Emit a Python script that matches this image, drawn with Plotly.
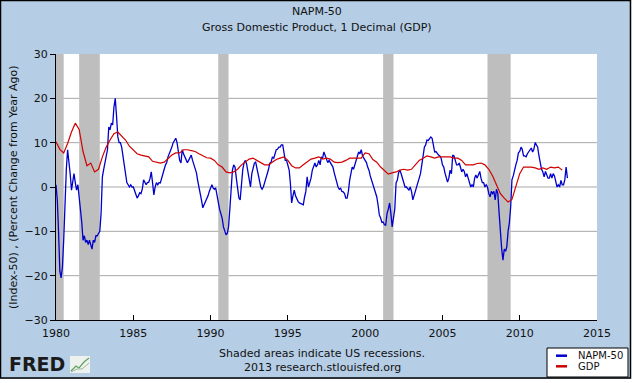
import pandas as pd
import plotly.graph_objects as go

# ---------------- data ----------------
napm_start = "1980-01-01"   # monthly, NAPM index minus 50
napm_values = [
    0.5, -3, -10, -19, -20.5, -18, -12, -3, 4, 8.4, 6, 3,          # 1980
    -0.7, 2, 3, 1, -0.7, 0.5, -2, -4, -8, -12, -11, -12.5,         # 1981
    -12, -13, -12, -13, -14, -12, -12.5, -11, -11, -10.5, -10, -6,  # 1982
    2.3, 4, 5.4, 6.5, 8.4, 13.5, 12.9, 14.4, 14, 18, 20, 16,       # 1983
    11.3, 10, 10, 9, 7, 4.5, 2, 1, 0.5, 0, 0.5, 0,                 # 1984
    0, -1, -1.5, -2.5, -2, -1.3, -1.5, -0.5, 1.6, 1, 0.5, 1,       # 1985
    1.1, 2, 3.4, 1, -1.8, 0, 1, 0.5, 1, 0.9, 2, 3.5,               # 1986
    4, 5, 5.5, 6.8, 7.5, 8, 9, 10, 10.6, 11, 10, 7.7,              # 1987
    6, 5.4, 8.4, 7.5, 6.8, 6, 5.5, 6, 6.5, 7.2, 6, 5,              # 1988
    4, 3.2, 1.5, 0, -0.7, -3, -4.7, -4, -3.5, -2.9, -2, -1,        # 1989
    0, 0.5, -0.2, -0.5, -0.2, -2, -3, -5, -6, -7, -9, -10,         # 1990
    -10.8, -10.4, -9, -5, -0.7, 3.8, 5, 4.5, 2, -1, -2.5, -2.9,    # 1991
    1.6, 4, 5.4, 6, 5.2, 3.4, 2.3, 0, 3, 4.5, 5.4, 5.6,            # 1992
    4, 2.3, 1, 0, -0.5, 0, 1, 2.3, 3, 4, 5.4, 5.6,                 # 1993
    6.8, 6.5, 7.5, 8.4, 8.5, 9, 9, 9.5, 9.5, 8, 6, 6,              # 1994
    5, 3.8, 0.9, -3.6, -2, -0.7, -2, -2.9, -3.3, -3.6, -3.8, -4,   # 1995
    -4, -2.2, -1, 2.3, 0, 1, 2, 3.8, 4.5, 5.4, 4.5, 5,             # 1996
    6, 5, 6.8, 6.5, 7.9, 7, 6, 5.5, 6, 5.5, 5, 4.5,                # 1997
    3.2, 2, 0.5, 0, -0.5, -0.3, -1, -1.1, -1.5, -2.5, -2.5, -1,    # 1998
    1.6, 3, 4.5, 4, 5, 6, 6.5, 7.9, 7.5, 8.4, 7, 6.5,              # 1999
    6, 5.5, 4.5, 3.8, 2.5, 1.5, 0.9, 0, -1, -2.2, -4, -6.3,        # 2000
    -7, -8, -7.9, -8.5, -8.6, -6, -5, -3.6, -6, -9, -7, -5,        # 2001
    0.9, 1.6, 3.2, 3.8, 3, 2, 0.9, 0, 0, -0.5, -0.7, 0,            # 2002
    -1, -2.9, -2, -1, 0, 1, 2.3, 3, 5, 7, 9, 9.5,                  # 2003
    10.6, 10.5, 11, 11.3, 11, 9, 7.9, 8, 7.5, 7.2, 7, 6.5,         # 2004
    5, 4.5, 3.2, 2, 1.1, 2, 3.8, 3, 7.2, 7, 6, 5,                  # 2005
    5, 5.4, 4.5, 3.4, 4, 3.5, 2.3, 3, 2, 1, 0, 0.5,                # 2006
    0, 2, 2.7, 2, 3, 3.5, 2, 1, 1, 0, 0.5, 0,                      # 2007
    -1.5, -2.2, -1, -1.5, -1, -2.9, -0.5, -1.5, -5.9, -10.4, -14, -16.5,  # 2008
    -14, -14.5, -13.5, -10, -8.1, -4.5, 1.6, 2.5, 4.3, 5, 6, 7.7,  # 2009
    8, 9, 8.5, 7, 7, 6.8, 7.5, 7.9, 8.5, 8.8, 7.9, 8.5,            # 2010
    10, 9.5, 9, 7, 5.4, 4, 3.4, 2.3, 3.5, 2.5, 2, 2,               # 2011
    3, 2, 3, 2.5, 1.5, 0, 0.5, 0, 1.5, 0.5, 0.5, 1.6,              # 2012
    4.5, 2,                                                        # 2013
]

gdp_start = "1980-01-01"    # quarterly, percent change from year ago
gdp_values = [
    10.2, 8.5, 7.7, 9.8,    # 1980
    12.4, 14.4, 13, 8,      # 1981
    4.8, 5.4, 3.4, 4.0,     # 1982
    6.8, 9, 10.6, 12,       # 1983
    12.4, 11.5, 10.6, 9.2,  # 1984
    8.4, 7.5, 7.2, 7,       # 1985
    6.8, 5.8, 5.6, 5.4,     # 1986
    5.6, 6.5, 7.2, 7.7,     # 1987
    7.7, 8.4, 8.4, 8.2,     # 1988
    8, 7.5, 7, 6.6,         # 1989
    6.5, 6, 5, 4.5,         # 1990
    3.4, 3.2, 3.4, 4,       # 1991
    5, 5.6, 6.3, 6.5,       # 1992
    6, 5.6, 5, 5,           # 1993
    5.6, 6.2, 6.5, 6.8,     # 1994
    6, 4.8, 4.3, 4.3,       # 1995
    5, 5.7, 6.3, 6.5,       # 1996
    6.8, 6.3, 6.5, 6.3,     # 1997
    5.6, 5.5, 5.6, 6,       # 1998
    6.5, 6.5, 6.5, 6.5,     # 1999
    7.7, 7.5, 6.2, 5.6,     # 2000
    4.5, 3.8, 2.9, 3.2,     # 2001
    3.4, 3.8, 4, 3.8,       # 2002
    4, 5, 6, 6.5,           # 2003
    7, 6.8, 6.5, 6.8,       # 2004
    6.8, 6.7, 6.8, 6.5,     # 2005
    6.5, 6, 5, 5,           # 2006
    5, 5.3, 5.4, 5,         # 2007
    4, 2.5, 0.5, -1.5,      # 2008
    -2.5, -3.4, -2.8, 0,    # 2009
    3, 4.5, 4.5, 4.5,       # 2010
    4.3, 4, 4.3, 4,         # 2011
    4.5, 4.3, 4.5, 3.8,     # 2012
]

recession_starts = ["1980-01-01", "1981-07-01", "1990-07-01", "2001-03-01", "2007-12-01"]
recession_ends = ["1980-07-01", "1982-11-01", "1991-03-01", "2001-11-01", "2009-06-01"]

x_tick_years = [1980, 1985, 1990, 1995, 2000, 2005, 2010, 2015]
y_tick_values = [-30, -20, -10, 0, 10, 20, 30]
grid_values = [-20, -10, 0, 10, 20]

series_names = ["NAPM-50", "GDP"]
series_colors = ["#0000CC", "#D00000"]

# ---------------- figure ----------------
napm_dates = pd.date_range(napm_start, periods=len(napm_values), freq="MS")
gdp_dates = pd.date_range(gdp_start, periods=len(gdp_values), freq="QS")

BG = "#B5CDE5"
FONT = "DejaVu Sans"
W, H = 634, 383
ML, MR, MT, MB = 56, 37, 54, 63
PW, PH = W - ML - MR, H - MT - MB


def px(x):
    return (x - ML) / PW


def py(y):
    return (H - MB - y) / PH


fig = go.Figure()
fig.add_trace(go.Scatter(x=napm_dates, y=napm_values, mode="lines", name=series_names[0],
                         line=dict(color=series_colors[0], width=1.3), showlegend=False))
fig.add_trace(go.Scatter(x=gdp_dates, y=gdp_values, mode="lines", name=series_names[1],
                         line=dict(color=series_colors[1], width=1.2), showlegend=False))

shapes = []
for g in grid_values:
    shapes.append(dict(type="line", xref="paper", x0=0, x1=1, yref="y", y0=g, y1=g,
                       line=dict(color="#A8A8A8", width=1), layer="below"))
for s, e in zip(recession_starts, recession_ends):
    shapes.append(dict(type="rect", xref="x", x0=s, x1=e, yref="paper", y0=0, y1=1,
                       fillcolor="#BEBEBE", line=dict(width=0), layer="below"))

# outer white strips and black frame
shapes.append(dict(type="rect", xref="paper", yref="paper", x0=px(631), x1=px(640),
                   y0=py(-5), y1=py(390), fillcolor="white", line=dict(width=0)))
shapes.append(dict(type="rect", xref="paper", yref="paper", x0=px(-5), x1=px(640),
                   y0=py(379), y1=py(390), fillcolor="white", line=dict(width=0)))
shapes.append(dict(type="rect", xref="paper", yref="paper", x0=px(0.5), x1=px(630.5),
                   y0=py(378), y1=py(0.5), line=dict(color="black", width=1.5)))

# legend box
shapes.append(dict(type="rect", xref="paper", yref="paper", x0=px(547), x1=px(628),
                   y0=py(377), y1=py(348), fillcolor="white", line=dict(color="black", width=1)))
leg_y = [355.7, 366.3]
for yy, c in zip(leg_y, series_colors):
    shapes.append(dict(type="line", xref="paper", yref="paper", x0=px(556), x1=px(567),
                       y0=py(yy), y1=py(yy), line=dict(color=c, width=2.5)))

# FRED logo icon
shapes.append(dict(type="rect", xref="paper", yref="paper", x0=px(70), x1=px(90),
                   y0=py(373), y1=py(356), fillcolor="#EEF2EE", line=dict(width=0)))
shapes.append(dict(type="path", xref="paper", yref="paper",
                   path="M {} {} L {} {} L {} {} L {} {} L {} {}".format(
                       px(71), py(371), px(76), py(366), px(79), py(368), px(84), py(362), px(89), py(358)),
                   line=dict(color="#5FA05F", width=1.2)))
shapes.append(dict(type="path", xref="paper", yref="paper",
                   path="M {} {} L {} {} L {} {} L {} {}".format(
                       px(71), py(372), px(77), py(369), px(82), py(369), px(89), py(363)),
                   line=dict(color="#9AB89A", width=1)))

annotations = [
    dict(text="NAPM-50", x=px(317), y=py(12), xref="paper", yref="paper", showarrow=False,
         font=dict(family=FONT, size=11, color="#111111"), xanchor="center", yanchor="middle"),
    dict(text="Gross Domestic Product, 1 Decimal (GDP)", x=px(317), y=py(27), xref="paper",
         yref="paper", showarrow=False, font=dict(family=FONT, size=11, color="#111111"),
         xanchor="center", yanchor="middle"),
    dict(text="(Index-50) , (Percent Change from Year Ago)", x=px(13), y=py(187), xref="paper",
         yref="paper", showarrow=False, textangle=-90,
         font=dict(family=FONT, size=11, color="#111111"), xanchor="center", yanchor="middle"),
    dict(text="Shaded areas indicate US recessions.", x=px(322), y=py(353), xref="paper",
         yref="paper", showarrow=False, font=dict(family=FONT, size=11, color="#111111"),
         xanchor="center", yanchor="middle"),
    dict(text="2013 research.stlouisfed.org", x=px(322), y=py(367), xref="paper",
         yref="paper", showarrow=False, font=dict(family=FONT, size=11, color="#111111"),
         xanchor="center", yanchor="middle"),
    dict(text="<b>FRED</b>", x=px(7), y=py(364), xref="paper", yref="paper", showarrow=False,
         font=dict(family="DejaVu Sans", size=19, color="#1A1A1A"), xanchor="left", yanchor="middle"),
]
for yy, name in zip(leg_y, series_names):
    annotations.append(dict(text=name, x=px(576), y=py(yy), xref="paper", yref="paper",
                            showarrow=False, font=dict(family=FONT, size=10, color="#111111"),
                            xanchor="left", yanchor="middle"))

fig.update_layout(
    width=W, height=H,
    margin=dict(l=ML, r=MR, t=MT, b=MB, pad=0),
    paper_bgcolor=BG, plot_bgcolor="white",
    font=dict(family=FONT, size=11, color="#111111"),
    shapes=shapes, annotations=annotations, showlegend=False,
)
fig.update_xaxes(
    type="date", range=["1980-01-01", "2015-01-01"],
    tickvals=[f"{y}-01-01" for y in x_tick_years], ticktext=[str(y) for y in x_tick_years],
    ticks="inside", ticklen=5, tickcolor="black", showgrid=False, zeroline=False,
    showline=True, linecolor="black", linewidth=1, tickfont=dict(family=FONT, size=11),
    ticklabelstandoff=3,
)
fig.update_yaxes(
    range=[-30, 30], tickvals=y_tick_values, ticks="outside", ticklen=5, tickcolor="black",
    showgrid=False, zeroline=False, showline=True, linecolor="black", linewidth=1,
    tickfont=dict(family=FONT, size=11),
)

fig.write_html(
    "out.html",
    config={"displayModeBar": False},
    post_script="document.body.style.margin='0';document.body.style.overflow='hidden';",
)
